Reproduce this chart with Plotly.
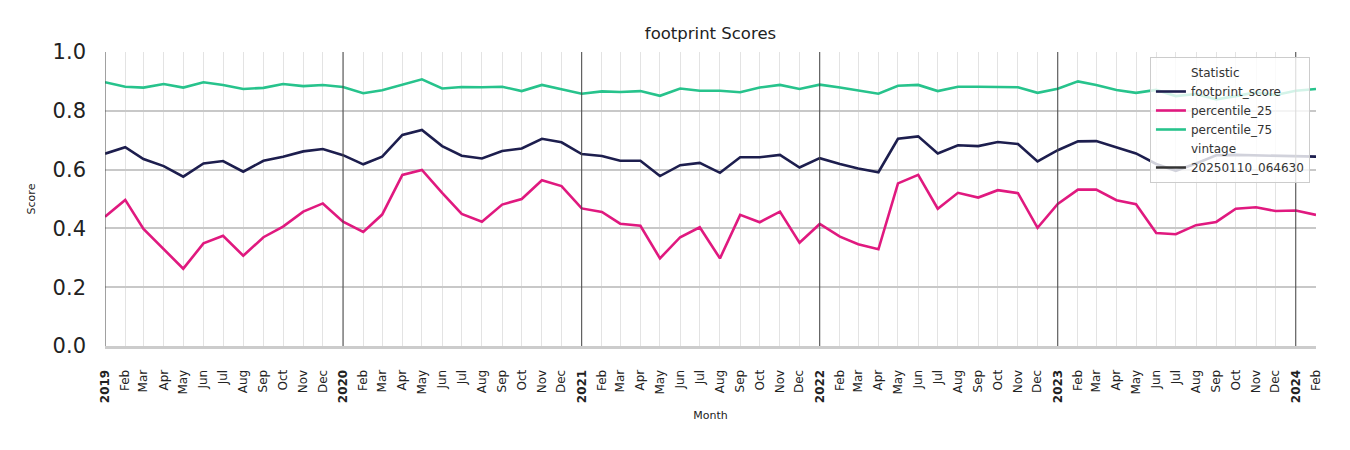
import pandas as pd
import plotly.graph_objects as go

months = [d.strftime("%Y-%m-%d") for d in pd.date_range("2019-01-01", "2024-02-01", freq="MS")]

footprint_score = [
    0.654, 0.676, 0.636, 0.612, 0.576, 0.621, 0.629, 0.593, 0.630, 0.644, 0.662, 0.670,
    0.649, 0.618, 0.644, 0.718, 0.735, 0.680, 0.647, 0.638, 0.663, 0.672, 0.705, 0.693,
    0.653, 0.646, 0.630, 0.630, 0.578, 0.615, 0.623, 0.589, 0.642, 0.642, 0.650, 0.607,
    0.639, 0.619, 0.604, 0.591, 0.705, 0.713, 0.655, 0.683, 0.680, 0.694, 0.687, 0.628,
    0.666, 0.696, 0.697, 0.675, 0.655, 0.619, 0.596, 0.621, 0.649, 0.650, 0.649, 0.646,
    0.646, 0.644,
]
percentile_25 = [
    0.440, 0.497, 0.398, 0.329, 0.263, 0.349, 0.375, 0.307, 0.370, 0.406, 0.457, 0.485,
    0.423, 0.388, 0.447, 0.582, 0.599, 0.521, 0.449, 0.423, 0.481, 0.500, 0.564, 0.544,
    0.468, 0.456, 0.416, 0.409, 0.298, 0.370, 0.404, 0.298, 0.446, 0.421, 0.457, 0.351,
    0.415, 0.372, 0.346, 0.329, 0.553, 0.582, 0.467, 0.521, 0.505, 0.530, 0.520, 0.402,
    0.483, 0.532, 0.532, 0.496, 0.482, 0.384, 0.380, 0.411, 0.422, 0.467, 0.472, 0.459,
    0.461, 0.446,
]
percentile_75 = [
    0.897, 0.882, 0.879, 0.891, 0.879, 0.897, 0.888, 0.874, 0.878, 0.891, 0.884, 0.888,
    0.881, 0.860, 0.870, 0.888, 0.907, 0.876, 0.881, 0.880, 0.882, 0.867, 0.888, 0.873,
    0.858, 0.866, 0.864, 0.867, 0.851, 0.876, 0.868, 0.868, 0.863, 0.879, 0.888, 0.874,
    0.889, 0.879, 0.868, 0.858, 0.885, 0.888, 0.867, 0.882, 0.882, 0.880, 0.880, 0.861,
    0.875, 0.900, 0.888, 0.871, 0.861, 0.871, 0.850, 0.857, 0.839, 0.850, 0.863, 0.854,
    0.868, 0.874,
]
vintage = "20250110_064630"

series = [
    ("footprint_score", footprint_score, "#1d1e4e"),
    ("percentile_25", percentile_25, "#e0197f"),
    ("percentile_75", percentile_75, "#27c38c"),
]

month_abbr = ["Jan", "Feb", "Mar", "Apr", "May", "Jun", "Jul", "Aug", "Sep", "Oct", "Nov", "Dec"]
tick_text = [f"<b>{m[:4]}</b>" if m[5:7] == "01" else month_abbr[int(m[5:7]) - 1] for m in months]
year_starts = [m for m in months if m[5:7] == "01"]

fig = go.Figure()

# invisible entry used as legend header so it lines up with item text
fig.add_trace(go.Scatter(x=[months[0]], y=[None], mode="lines", name="Statistic",
                         line=dict(color="rgba(0,0,0,0)", width=2.5)))
for name, vals, color in series:
    fig.add_trace(go.Scatter(x=months, y=vals, mode="lines", name=name,
                             line=dict(color=color, width=2.6)))
fig.add_trace(go.Scatter(x=[months[0]], y=[None], mode="lines", name="vintage",
                         line=dict(color="rgba(0,0,0,0)", width=2.5)))
fig.add_trace(go.Scatter(x=[months[0]], y=[None], mode="lines", name=vintage,
                         line=dict(color="#333333", width=2.5)))

for d in year_starts:
    fig.add_shape(type="line", xref="x", yref="paper", x0=d, x1=d, y0=0, y1=1,
                  line=dict(color="#444444", width=1), layer="above")

# page body has an 8px margin, so the figure is shrunk and margins shifted
fig.update_layout(
    width=1334, height=434,
    margin=dict(l=97, r=26, t=44, b=96),
    paper_bgcolor="white", plot_bgcolor="white",
    font=dict(family="DejaVu Sans", color="#222222"),
    title=dict(text="footprint Scores", x=0.5, xref="paper", y=0.943, yanchor="middle",
               font=dict(size=16.5, color="#222222")),
    showlegend=True,
    legend=dict(x=0.995, y=0.983, xanchor="right", yanchor="top",
                bgcolor="rgba(255,255,255,0.8)", bordercolor="#cccccc", borderwidth=1,
                font=dict(size=12, color="#333333"), tracegroupgap=0),
)

fig.update_xaxes(
    type="date",
    range=[months[0], months[-1]],
    tickvals=months, ticktext=tick_text, tickangle=-90,
    tickfont=dict(size=12, color="#222222"),
    ticklabelstandoff=16,
    showgrid=True, gridcolor="#e3e3e3", gridwidth=1,
    showline=True, linecolor="#cccccc", linewidth=3,
    zeroline=False,
    title=dict(text="Month", font=dict(size=11, color="#222222"), standoff=10),
)
fig.update_yaxes(
    range=[0, 1.0], tickvals=[0, 0.2, 0.4, 0.6, 0.8, 1.0],
    ticktext=["0.0", "0.2", "0.4", "0.6", "0.8", "1.0"],
    tickfont=dict(size=21, color="#222222"),
    ticklabelstandoff=18,
    showgrid=True, gridcolor="#c8c8c8", gridwidth=2,
    zeroline=False, showline=False,
    title=dict(text="Score", font=dict(size=11, color="#222222"), standoff=14),
)

fig.write_html("out.html")
